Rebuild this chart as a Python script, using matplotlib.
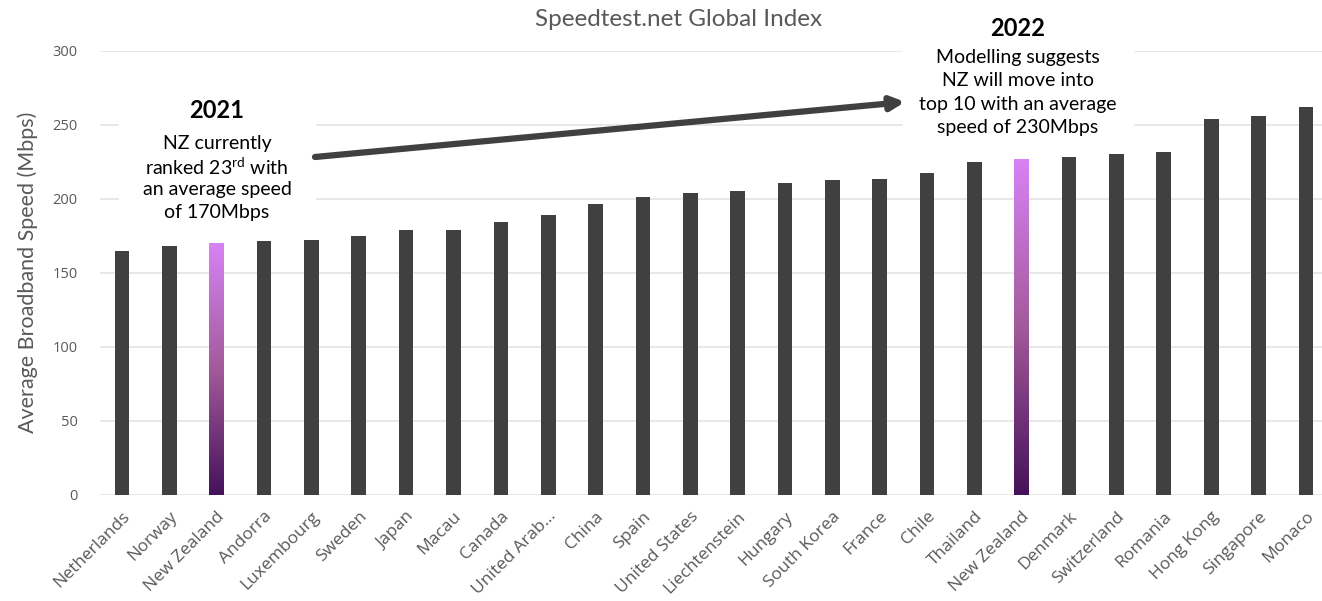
import numpy as np
import matplotlib.pyplot as plt
from matplotlib.colors import LinearSegmentedColormap
from matplotlib.patches import Rectangle, FancyArrowPatch

countries = ["Netherlands", "Norway", "New Zealand", "Andorra", "Luxembourg", "Sweden",
             "Japan", "Macau", "Canada", "United Arab...", "China", "Spain",
             "United States", "Liechtenstein", "Hungary", "South Korea", "France",
             "Chile", "Thailand", "New Zealand", "Denmark", "Switzerland", "Romania",
             "Hong Kong", "Singapore", "Monaco"]
speeds = [164.7, 168, 170, 171.5, 172, 175, 179, 179, 184, 189, 196.5, 201,
          203.7, 205, 210.5, 212.6, 213.7, 217.5, 225, 227, 228, 230, 232,
          254, 256, 262]
highlight = "New Zealand"
yticks = [0, 50, 100, 150, 200, 250, 300]

W, H = 1322, 601
GREY = "#595959"
DARK = "#404040"


def px(x, y):
    # pixel position -> figure fraction
    return x / W, 1 - y / H


fig = plt.figure(figsize=(W / 100, H / 100), dpi=100)
ax = fig.add_axes([100 / W, 1 - 494.5 / H, 1 - 100 / W, (494.5 - 51) / H])

x = np.arange(len(countries))
bars = ax.bar(x, speeds, width=0.31, color=DARK, zorder=2)

# gradient fill for the New Zealand bars
cmap = LinearSegmentedColormap.from_list("nz", ["#45125a", "#a35a9a", "#d783f5"])
grad = np.linspace(0, 1, 256).reshape(-1, 1)
for bar, name in zip(bars, countries):
    if name == highlight:
        bar.set_facecolor("none")
        x0, w, h = bar.get_x(), bar.get_width(), bar.get_height()
        im = ax.imshow(grad, cmap=cmap, origin="lower", aspect="auto",
                       extent=[x0, x0 + w, 0, h], zorder=2)
        im.set_clip_path(bar)

ax.set_xlim(-0.465, 25.34)
ax.set_ylim(0, 300)
ax.set_yticks(yticks)
ax.set_yticklabels([str(t) for t in yticks], fontsize=10.5, color=GREY, family="Open Sans")
ax.set_xticks(x)
ax.set_xticklabels(countries, rotation=45, ha="right", va="top", rotation_mode="anchor",
                   fontsize=12.5, color=GREY, family="Open Sans")
ax.tick_params(length=0)
ax.tick_params(axis="x", pad=10)
ax.tick_params(axis="y", pad=16)
ax.yaxis.grid(True, color="#e6e6e6", lw=1.3)
ax.set_axisbelow(True)
for s in ax.spines.values():
    s.set_visible(False)

fig.text(*px(28, 272), "Average Broadband Speed (Mbps)", rotation=90, ha="center",
         va="center", fontsize=15.5, color=GREY, family="Lato")
fig.text(*px(679, 20), "Speedtest.net Global Index", ha="center", va="center",
         fontsize=17.5, color=GREY, family="Lato")

# white boxes behind the notes
for bx0, by0, bx1, by1 in [(119, 95, 315, 225), (903, 0, 1133, 135)]:
    fig.add_artist(Rectangle(px(bx0, by1), (bx1 - bx0) / W, (by1 - by0) / H,
                             transform=fig.transFigure, color="white", zorder=3))

fig.text(*px(217, 110), "2021", ha="center", va="center", fontsize=17,
         fontweight="bold", family="Lato", zorder=4)
lines_2021 = ["NZ currently", r"ranked 23$^{\mathregular{rd}}$ with",
              "an average speed", "of 170Mbps"]
for i, t in enumerate(lines_2021):
    fig.text(*px(217, 144 + 22.7 * i), t, ha="center", va="center", fontsize=14,
             family="Lato", zorder=4)

fig.text(*px(1018, 28), "2022", ha="center", va="center", fontsize=17,
         fontweight="bold", family="Lato", zorder=4)
lines_2022 = ["Modelling suggests", "NZ will move into",
              "top 10 with an average", "speed of 230Mbps"]
for i, t in enumerate(lines_2022):
    fig.text(*px(1018, 58 + 23 * i), t, ha="center", va="center", fontsize=14,
             family="Lato", zorder=4)

arrow = FancyArrowPatch(px(315, 157), px(905, 102), transform=fig.transFigure,
                        arrowstyle="-|>,head_length=8,head_width=4", lw=4.5,
                        color=DARK, zorder=5, shrinkA=0, shrinkB=0)
fig.add_artist(arrow)

fig.savefig("out.png", dpi=100)
